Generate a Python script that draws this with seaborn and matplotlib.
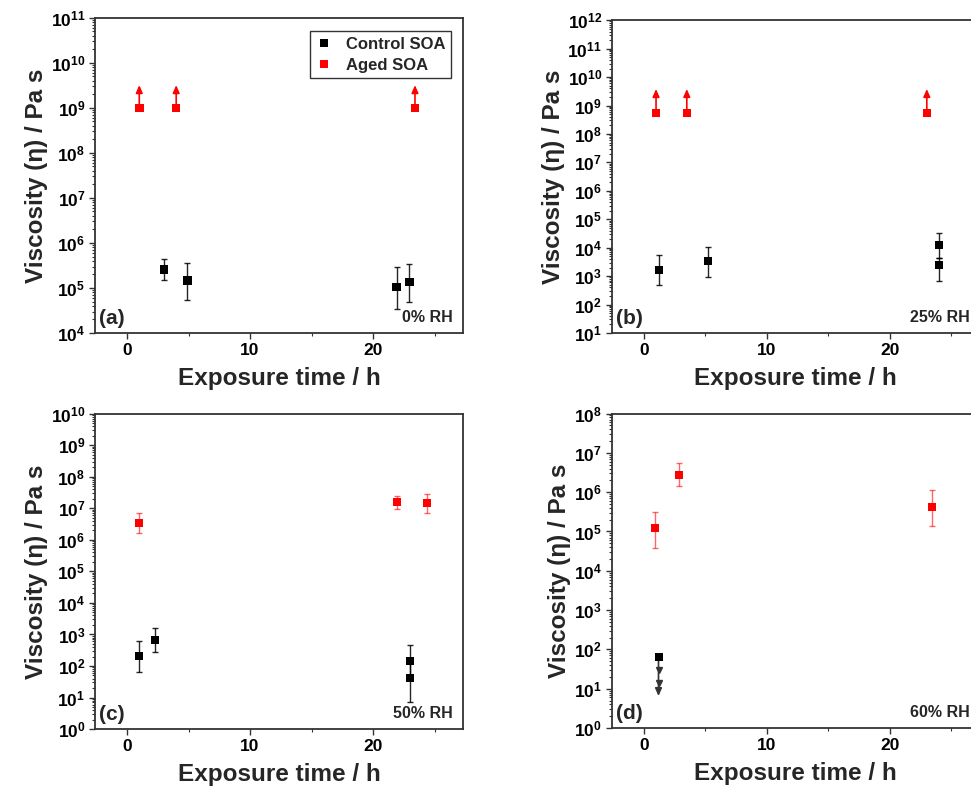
import numpy as np
import pandas as pd
import matplotlib
matplotlib.use("Agg")
import matplotlib.pyplot as plt
import matplotlib.ticker as mticker
import seaborn as sns

# panel (a) 0% RH
a_ctrl_x = [3.0, 4.9, 21.9, 22.95]
a_ctrl_y = [2.6e5, 1.45e5, 1.05e5, 1.35e5]
a_ctrl_lo = [1.5e5, 5.4e4, 3.4e4, 4.9e4]
a_ctrl_hi = [4.4e5, 3.6e5, 2.95e5, 3.4e5]
a_aged_x = [1.0, 4.0, 23.4]
a_aged_y = [1.0e9, 1.0e9, 1.0e9]
a_aged_top = [3.2e9, 3.2e9, 3.2e9]

# panel (b) 25% RH
b_ctrl_x = [1.2, 5.2, 24.0, 24.0]
b_ctrl_y = [1.7e3, 3.3e3, 1.2e4, 2.4e3]
b_ctrl_lo = [4.7e2, 9.5e2, 4.5e3, 6.5e2]
b_ctrl_hi = [5.6e3, 1.1e4, 3.4e4, 4.2e3]
b_aged_x = [1.0, 3.5, 23.0]
b_aged_y = [5.5e8, 5.5e8, 5.5e8]
b_aged_top = [3.8e9, 3.8e9, 3.8e9]

# panel (c) 50% RH
c_ctrl_x = [1.0, 2.3, 23.0, 23.0]
c_ctrl_y = [210, 680, 145, 42]
c_ctrl_lo = [65, 280, 45, 7.2]
c_ctrl_hi = [630, 1620, 470, 140]
c_aged_x = [1.0, 21.9, 24.4]
c_aged_y = [3.5e6, 1.6e7, 1.5e7]
c_aged_lo = [1.7e6, 9.5e6, 7.2e6]
c_aged_hi = [7.2e6, 2.5e7, 2.9e7]

# panel (d) 60% RH
d_ctrl_x = [1.2]
d_ctrl_y = [63]
d_ctrl_bottom = [6.5]
d_aged_x = [0.9, 2.9, 23.4]
d_aged_y = [1.2e5, 2.8e6, 4.1e5]
d_aged_lo = [3.9e4, 1.4e6, 1.4e5]
d_aged_hi = [3.2e5, 5.4e6, 1.17e6]

ylims = {"a": (1e4, 1e11), "b": (1e1, 1e12), "c": (1e0, 1e10), "d": (1e0, 1e8)}
rh_labels = {"a": "0% RH", "b": "25% RH", "c": "50% RH", "d": "60% RH"}

sns.set_style("ticks")
plt.rcParams["font.family"] = ["Liberation Sans", "DejaVu Sans"]
plt.rcParams["font.weight"] = "bold"
plt.rcParams["axes.labelweight"] = "bold"
plt.rcParams["mathtext.fontset"] = "custom"
plt.rcParams["mathtext.rm"] = "Liberation Sans:bold"
plt.rcParams["mathtext.bf"] = "Liberation Sans:bold"

fig = plt.figure(figsize=(9.71, 7.92), dpi=100)
pos = {
    "a": [0.0978, 0.5795, 0.379, 0.398],
    "b": [0.630, 0.5795, 0.379, 0.395],
    "c": [0.0978, 0.0795, 0.379, 0.398],
    "d": [0.630, 0.0808, 0.379, 0.397],
}
axes = {k: fig.add_axes(v) for k, v in pos.items()}

ctrl_col = "black"
aged_col = "#ff0000"
ms = 38


def draw_err(ax, x, y, lo, hi, col, alpha):
    y = np.array(y)
    err = [y - np.array(lo), np.array(hi) - y]
    ax.errorbar(x, y, yerr=err, fmt="none", ecolor=col, alpha=alpha,
                elinewidth=1.0, capsize=2.5, capthick=1.0, zorder=2)


def draw_arrows(ax, x, y, end, col):
    for xi, yi, ei in zip(x, y, end):
        ax.annotate("", xy=(xi, ei), xytext=(xi, yi), zorder=2,
                    arrowprops=dict(arrowstyle="-|>,head_length=0.45,head_width=0.2",
                                    color=col, lw=1.2, shrinkA=0, shrinkB=0))


# (a)
ax = axes["a"]
draw_err(ax, a_ctrl_x, a_ctrl_y, a_ctrl_lo, a_ctrl_hi, "black", 0.85)
draw_arrows(ax, a_aged_x, a_aged_y, a_aged_top, aged_col)
df = pd.concat([
    pd.DataFrame({"x": a_ctrl_x, "y": a_ctrl_y, "grp": "Control SOA"}),
    pd.DataFrame({"x": a_aged_x, "y": a_aged_y, "grp": "Aged SOA"}),
])
sns.scatterplot(data=df, x="x", y="y", hue="grp", palette={"Control SOA": ctrl_col, "Aged SOA": aged_col},
                marker="s", s=ms, linewidth=0, ax=ax, zorder=3)
leg = ax.legend(loc="upper right", frameon=True, fancybox=False, fontsize=12,
                handlelength=1.0, handletextpad=0.8, borderpad=0.35, labelspacing=0.35,
                bbox_to_anchor=(0.99, 0.985))
leg.get_frame().set_edgecolor("#333333")
leg.get_frame().set_linewidth(1.0)
leg.get_frame().set_alpha(1)

# (b)
ax = axes["b"]
draw_err(ax, b_ctrl_x, b_ctrl_y, b_ctrl_lo, b_ctrl_hi, "black", 0.85)
draw_arrows(ax, b_aged_x, b_aged_y, b_aged_top, aged_col)
sns.scatterplot(x=b_ctrl_x, y=b_ctrl_y, color=ctrl_col, marker="s", s=ms, linewidth=0, ax=ax, zorder=3)
sns.scatterplot(x=b_aged_x, y=b_aged_y, color=aged_col, marker="s", s=ms, linewidth=0, ax=ax, zorder=3)

# (c)
ax = axes["c"]
draw_err(ax, c_ctrl_x, c_ctrl_y, c_ctrl_lo, c_ctrl_hi, "black", 0.85)
draw_err(ax, c_aged_x, c_aged_y, c_aged_lo, c_aged_hi, aged_col, 0.6)
sns.scatterplot(x=c_ctrl_x, y=c_ctrl_y, color=ctrl_col, marker="s", s=ms, linewidth=0, ax=ax, zorder=3)
sns.scatterplot(x=c_aged_x, y=c_aged_y, color=aged_col, marker="s", s=ms, linewidth=0, ax=ax, zorder=3)

# (d)
ax = axes["d"]
draw_err(ax, d_aged_x, d_aged_y, d_aged_lo, d_aged_hi, aged_col, 0.6)
draw_arrows(ax, d_ctrl_x, d_ctrl_y, d_ctrl_bottom, "#333333")
# extra arrow heads along the upper-limit line
steps = np.geomspace(d_ctrl_y[0], d_ctrl_bottom[0], 4)[1:-1]
ax.plot(np.repeat(d_ctrl_x, len(steps)), steps, ls="none", marker="v", ms=4,
        color="#333333", mec="#333333", zorder=2)
sns.scatterplot(x=d_ctrl_x, y=d_ctrl_y, color=ctrl_col, marker="s", s=ms, linewidth=0, ax=ax, zorder=3)
sns.scatterplot(x=d_aged_x, y=d_aged_y, color=aged_col, marker="s", s=ms, linewidth=0, ax=ax, zorder=3)

for k, ax in axes.items():
    ax.set_yscale("log")
    ax.set_ylim(*ylims[k])
    ax.set_xlim(-2.6, 27.3)
    ax.xaxis.set_major_locator(mticker.FixedLocator([0, 10, 20]))
    ax.xaxis.set_minor_locator(mticker.FixedLocator([5, 15, 25]))
    ax.yaxis.set_major_locator(mticker.LogLocator(base=10, numticks=20))
    ax.yaxis.set_minor_locator(mticker.LogLocator(base=10, subs=np.arange(2, 10), numticks=20))
    ax.yaxis.set_major_formatter(mticker.LogFormatterMathtext())
    ax.yaxis.set_minor_formatter(mticker.NullFormatter())
    ax.tick_params(axis="both", which="major", direction="out", length=4, width=1.0,
                   labelsize=12.5, colors="#333333", labelcolor="black", pad=3)
    ax.tick_params(axis="both", which="minor", direction="out", length=2, width=0.8, colors="#333333")
    for sp in ax.spines.values():
        sp.set_color("#333333")
        sp.set_linewidth(1.3)
    ax.set_xlabel("Exposure time / h", fontsize=17.5, labelpad=7)
    ax.set_ylabel("Viscosity (η) / Pa s", fontsize=17.5, labelpad=2)
    ax.text(0.012, 0.015, f"({k})", transform=ax.transAxes, ha="left", va="bottom",
            fontsize=15, fontweight="bold")
    ax.text(0.972, 0.025, rh_labels[k], transform=ax.transAxes, ha="right", va="bottom",
            fontsize=11.5, fontweight="bold")

fig.savefig("out.png", dpi=100)
